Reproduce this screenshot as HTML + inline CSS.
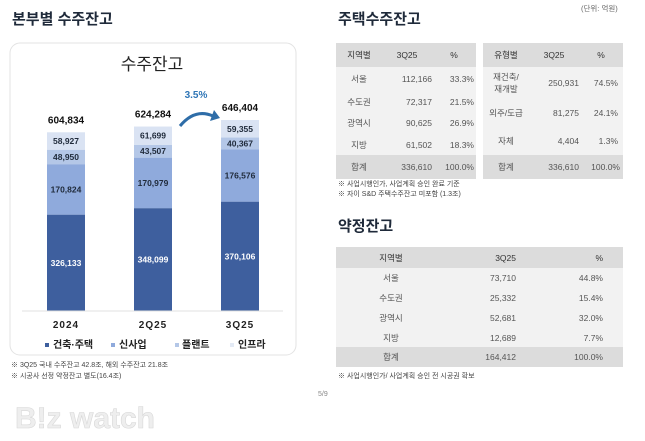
<!DOCTYPE html>
<html><head><meta charset="utf-8"><style>
*{margin:0;padding:0;box-sizing:border-box}
body{width:645px;height:441px;background:#fff;position:relative;overflow:hidden;font-family:"Liberation Sans","Noto Sans CJK KR",sans-serif;color:#333}
.abs{position:absolute}
.h{font-weight:bold;font-size:15px;color:#1f2a3a}
table{border-collapse:collapse;position:absolute;font-size:8.5px;color:#555}
td{padding:0;text-align:center}
tr.hd td{background:#dcdcdc;color:#333}
tr.bd td{background:#f2f2f2}
tr.tt td{background:#dcdcdc}
.note{font-size:7px;color:#444;position:absolute}
</style></head><body>
<div class="abs h" style="left:12px;top:8px">본부별 수주잔고</div>
<svg class="abs" style="left:0;top:0" width="330" height="441">
<rect x="10" y="43" width="286" height="312" rx="10" fill="#fff" stroke="#e3e3e3"/>
<text x="152" y="70" text-anchor="middle" font-size="17" fill="#222">수주잔고</text>
<g id="bars"></g>
<line x1="22" y1="311" x2="283" y2="311" stroke="#e0e0e0"/>
<path d="M180 126 Q195 108 213 116" fill="none" stroke="#2e6da8" stroke-width="3"/>
<polygon points="214,110 220,118 210,121" fill="#2e6da8"/>
<text x="196" y="98" text-anchor="middle" font-size="10" font-weight="bold" fill="#2e75b6">3.5%</text>
<g font-size="10" font-weight="bold" fill="#222">
<rect x="45" y="343" width="4" height="4" fill="#3e5f9e"/><text x="53" y="348">건축·주택</text>
<rect x="111" y="343" width="4" height="4" fill="#8faadc"/><text x="119" y="348">신사업</text>
<rect x="175" y="343" width="4" height="4" fill="#b4c7e7"/><text x="182" y="348">플랜트</text>
<rect x="230" y="343" width="4" height="4" fill="#e3eaf5"/><text x="238" y="348">인프라</text>
</g>
<text x="11" y="367" font-size="7" fill="#444">※ 3Q25 국내 수주잔고 42.8조,  해외 수주잔고 21.8조</text>
<text x="11" y="378" font-size="7" fill="#444">※ 시공사 선정 약정잔고 별도(16.4조)</text>
<text x="318" y="396" font-size="7" fill="#888">5/9</text>
<text x="15" y="428" font-size="30" font-weight="bold" fill="#eeeeee" stroke="#d8d8d8" stroke-width="0.6">B!z watch</text>
</svg>
<script>
const categories=["2024","2Q25","3Q25"];
const housing=[326133,348099,370106];
const newBiz=[170824,170979,176576];
const plant=[48950,43507,40367];
const infra=[58927,61699,59355];
const totals=[604834,624284,646404];
const NS="http://www.w3.org/2000/svg";
const g=document.getElementById("bars");
const yScale=v=>v*191/646404;
const xCenter=i=>66+i*87;
const base=311,bw=38;
const series=[[housing,"#3e5f9e","#fff","housing"],[newBiz,"#8faadc","#1f2a3a","new-business"],[plant,"#b4c7e7","#1f2a3a","plant"],[infra,"#dae3f3","#1f2a3a","infra"]];
function t(x,y,s,opt){const e=document.createElementNS(NS,"text");e.setAttribute("x",x);e.setAttribute("y",y);e.setAttribute("text-anchor","middle");for(const k in opt)e.setAttribute(k,opt[k]);e.textContent=s;g.appendChild(e);return e;}
categories.forEach((c,i)=>{
 let cum=0;
 series.forEach(([arr,col,tc,nm])=>{
  const h=yScale(arr[i]);const y=base-yScale(cum)-h;
  const r=document.createElementNS(NS,"rect");
  r.setAttribute("x",xCenter(i)-bw/2);r.setAttribute("y",y);r.setAttribute("width",bw);r.setAttribute("height",h);r.setAttribute("fill",col);
  
  
  g.appendChild(r);
  const l=t(xCenter(i),y+h/2+3,arr[i].toLocaleString("en-US"),{"font-size":"8.5","font-weight":"bold",fill:tc});
  
  
  cum+=arr[i];
 });
 const tl=t(xCenter(i),base-yScale(totals[i])-9,totals[i].toLocaleString("en-US"),{"font-size":"10","font-weight":"bold",fill:"#111"});
 
 
 const xl=t(xCenter(i),328,c,{"font-size":"10","font-weight":"bold",fill:"#222","letter-spacing":"1"});
 
 
});
</script>

<div class="abs h" style="left:338px;top:8px">주택수주잔고</div>
<div class="abs" style="left:581px;top:3px;font-size:7.5px;color:#666">(단위: 억원)</div>

<table style="left:336px;top:43px;width:140px">
<tr class="hd" style="height:24px"><td style="width:46px">지역별</td><td style="width:50px">3Q25</td><td>%</td></tr>
<tr class="bd" style="height:24px"><td>서울</td><td style="text-align:right">112,166</td><td style="text-align:right;padding-right:2px">33.3%</td></tr>
<tr class="bd" style="height:21px"><td>수도권</td><td style="text-align:right">72,317</td><td style="text-align:right;padding-right:2px">21.5%</td></tr>
<tr class="bd" style="height:22px"><td>광역시</td><td style="text-align:right">90,625</td><td style="text-align:right;padding-right:2px">26.9%</td></tr>
<tr class="bd" style="height:21px"><td>지방</td><td style="text-align:right">61,502</td><td style="text-align:right;padding-right:2px">18.3%</td></tr>
<tr class="tt" style="height:24px"><td>합계</td><td style="text-align:right">336,610</td><td style="text-align:right;padding-right:2px">100.0%</td></tr>
</table>
<table style="left:483px;top:43px;width:140px">
<tr class="hd" style="height:24px"><td style="width:46px">유형별</td><td style="width:50px">3Q25</td><td>%</td></tr>
<tr class="bd" style="height:32px"><td>재건축/<br>재개발</td><td style="text-align:right">250,931</td><td style="text-align:right;padding-right:5px">74.5%</td></tr>
<tr class="bd" style="height:28px"><td>외주/도급</td><td style="text-align:right">81,275</td><td style="text-align:right;padding-right:5px">24.1%</td></tr>
<tr class="bd" style="height:28px"><td>자체</td><td style="text-align:right">4,404</td><td style="text-align:right;padding-right:5px">1.3%</td></tr>
<tr class="tt" style="height:24px"><td>합계</td><td style="text-align:right">336,610</td><td style="text-align:right;padding-right:3px">100.0%</td></tr>
</table>
<div class="note" style="left:338px;top:179px">※  사업시행인가, 사업계획 승인 완료 기준</div>
<div class="note" style="left:338px;top:189px">※  자이 S&amp;D 주택수주잔고 미포함 (1.3조)</div>

<div class="abs h" style="left:338px;top:215px">약정잔고</div>
<table style="left:336px;top:247px;width:287px">
<tr class="hd" style="height:21px"><td style="width:110px">지역별</td><td style="width:70px;text-align:right">3Q25</td><td style="text-align:right;padding-right:20px">%</td></tr>
<tr class="bd" style="height:20px"><td>서울</td><td style="text-align:right">73,710</td><td style="text-align:right;padding-right:20px">44.8%</td></tr>
<tr class="bd" style="height:20px"><td>수도권</td><td style="text-align:right">25,332</td><td style="text-align:right;padding-right:20px">15.4%</td></tr>
<tr class="bd" style="height:20px"><td>광역시</td><td style="text-align:right">52,681</td><td style="text-align:right;padding-right:20px">32.0%</td></tr>
<tr class="bd" style="height:19px"><td>지방</td><td style="text-align:right">12,689</td><td style="text-align:right;padding-right:20px">7.7%</td></tr>
<tr class="tt" style="height:20px"><td>합계</td><td style="text-align:right">164,412</td><td style="text-align:right;padding-right:20px">100.0%</td></tr>
</table>
<div class="note" style="left:338px;top:371px">※  사업시행인가/ 사업계획 승인 전 시공권 확보</div>
</body></html>
